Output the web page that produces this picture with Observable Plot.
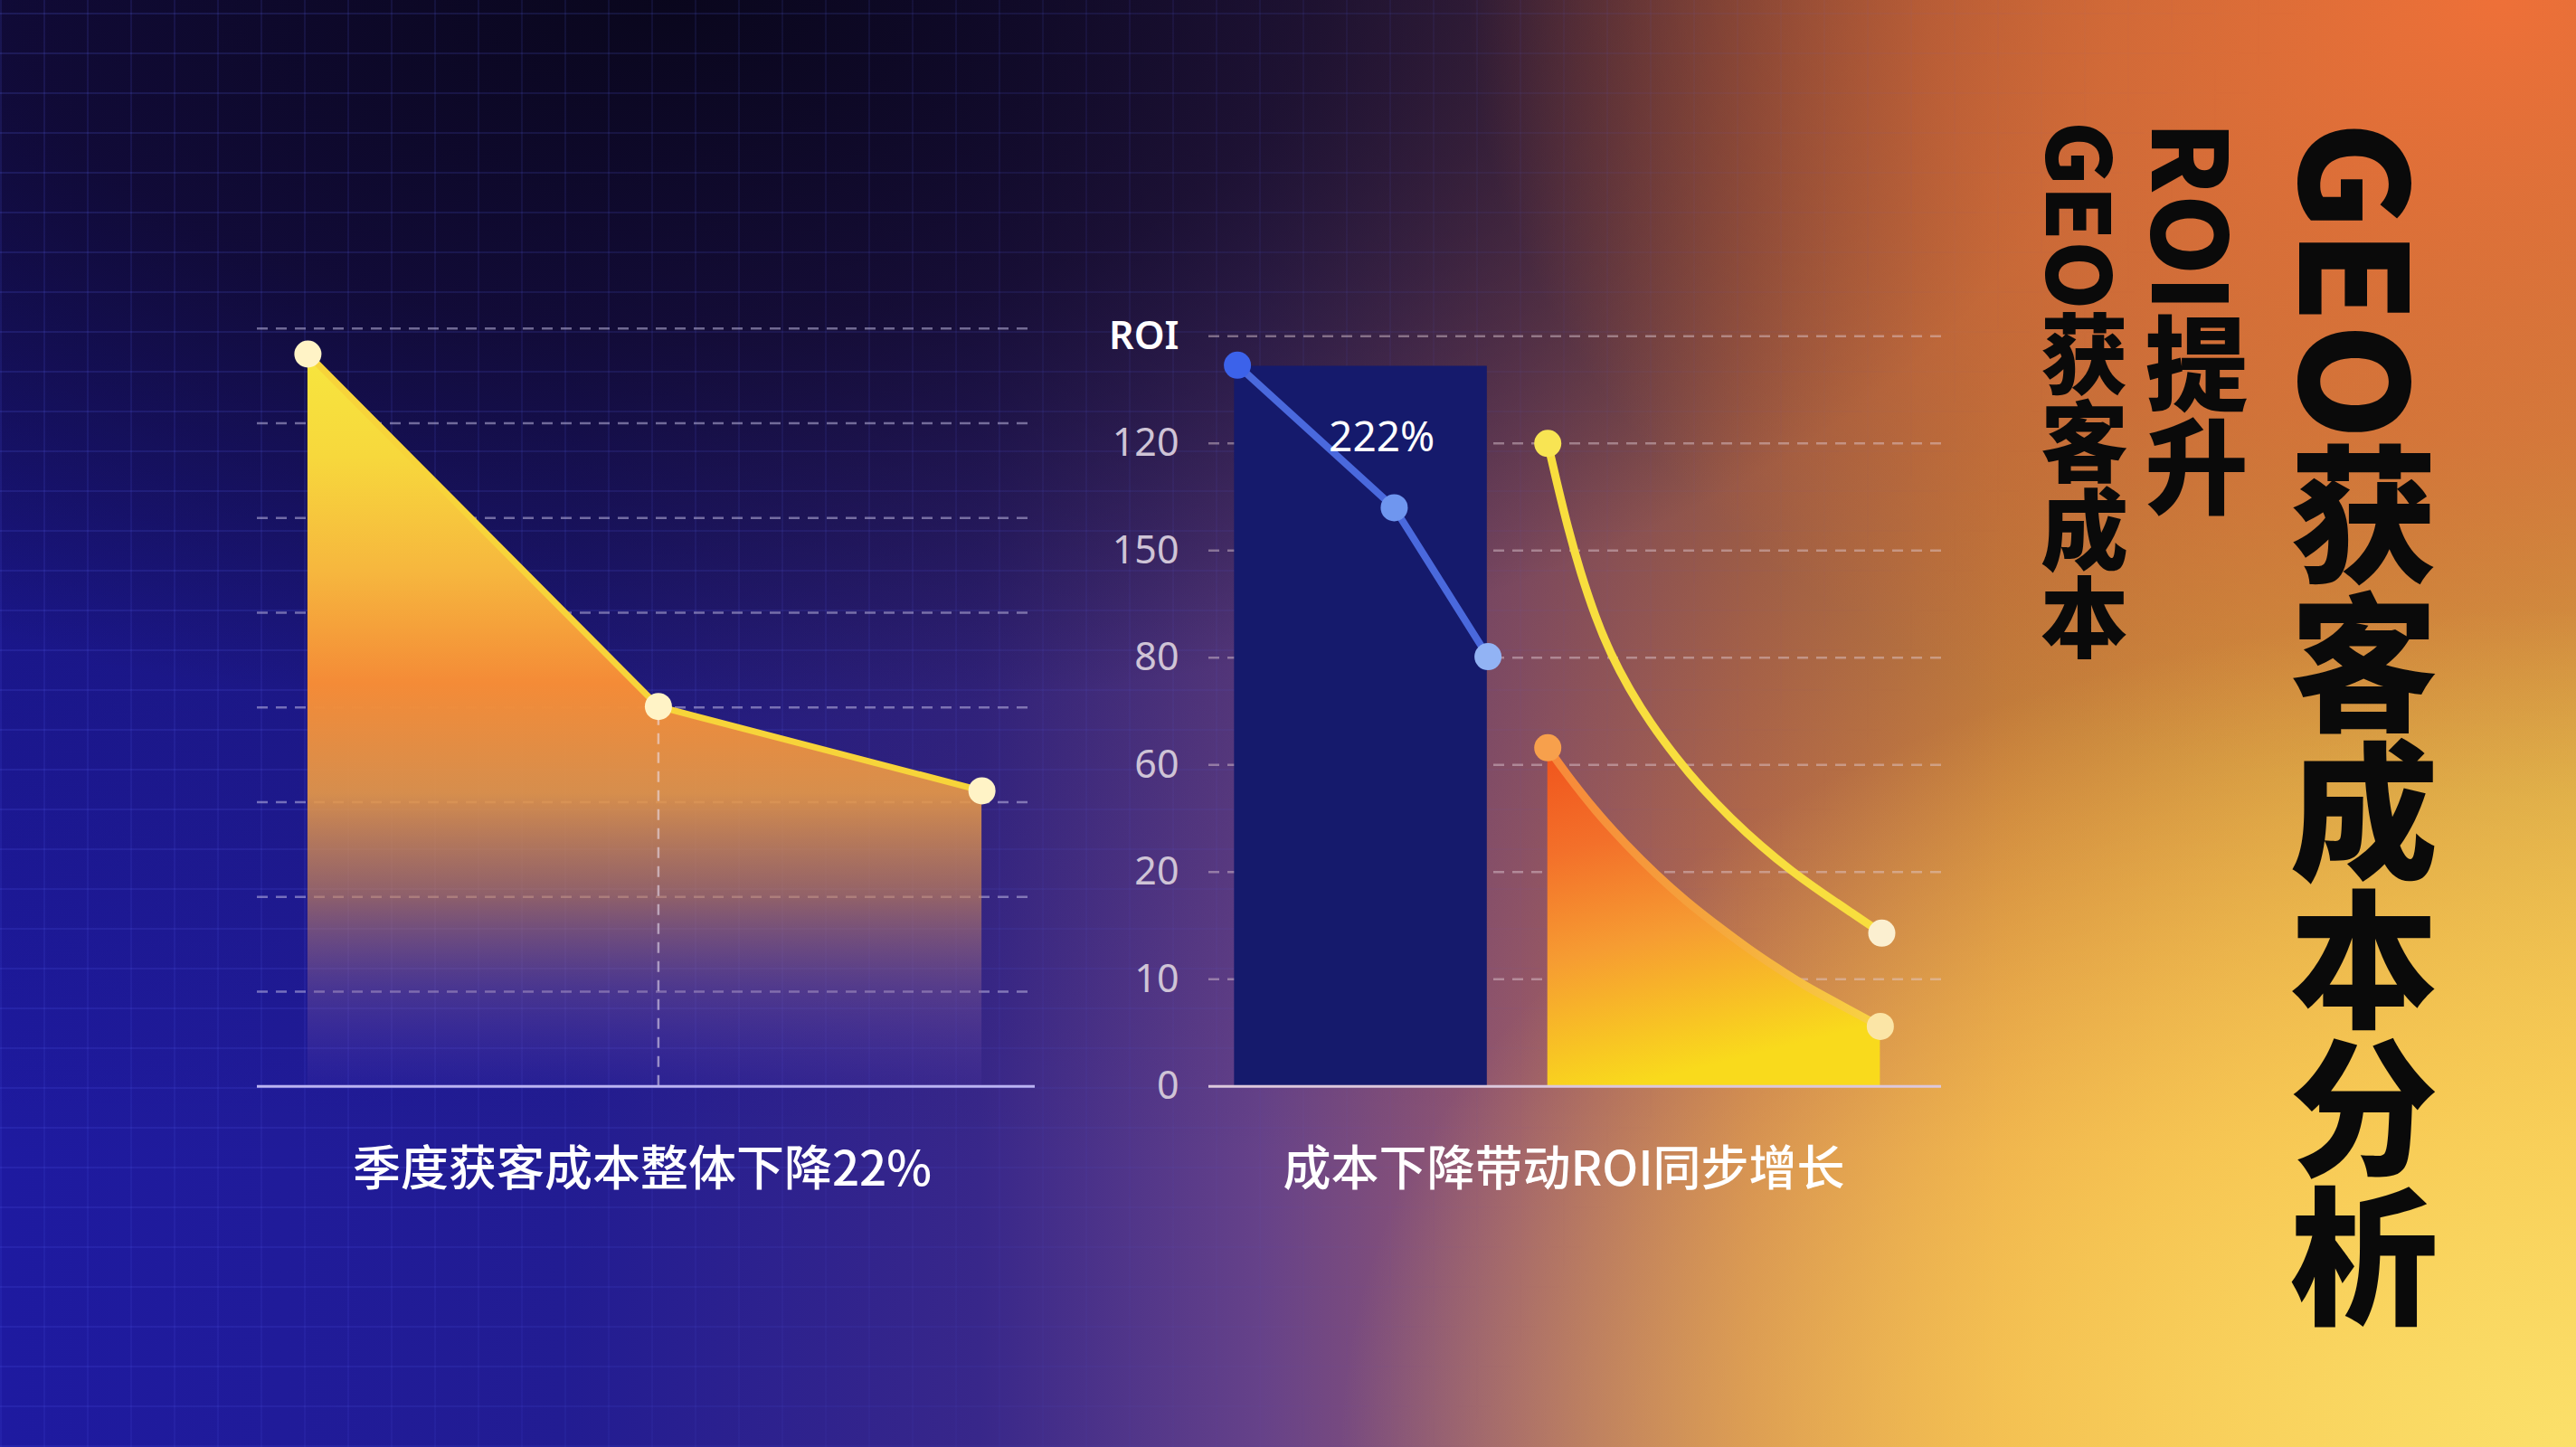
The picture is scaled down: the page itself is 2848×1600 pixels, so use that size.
<!DOCTYPE html>
<html>
<head>
<meta charset="utf-8">
<script src="https://cdn.jsdelivr.net/npm/d3@7"></script>
<script src="https://cdn.jsdelivr.net/npm/@observablehq/plot@0.6"></script>
<style>
html, body { margin: 0; padding: 0; width: 2848px; height: 1600px; overflow: hidden; background: #120f50; }
#stage {
  position: relative; width: 2848px; height: 1600px; overflow: hidden;
  font-family: "Noto Sans CJK SC", "Noto Sans", sans-serif;
  background:
    radial-gradient(ellipse 48% 58% at 100% 100%, rgba(251,224,106,1) 0%, rgba(249,210,90,0.75) 45%, rgba(248,200,80,0) 100%),
    radial-gradient(ellipse 40% 55% at 97% 0%, rgba(238,112,56,1) 0%, rgba(232,108,56,0.6) 55%, rgba(228,100,60,0) 100%),
    radial-gradient(ellipse 56% 50% at 26% 0%, rgba(9,6,26,0.96) 0%, rgba(14,7,30,0.7) 45%, rgba(14,7,30,0) 100%),
    linear-gradient(to bottom, rgba(8,6,40,0.42) 0%, rgba(8,6,40,0.18) 45%, rgba(8,6,40,0) 80%),
    linear-gradient(to right, #1e1aa0 0%, #221c92 22%, #38278a 38%, #664289 49%, #9a5a6c 59%, #c6744e 68%, #e6923e 78%, #f1a841 88%, #f5b946 100%);
}
#grid {
  position: absolute; left: 0; top: 0; width: 2848px; height: 1600px;
  background-image:
    repeating-linear-gradient(0deg, rgba(95,105,255,0.17) 0px, rgba(95,105,255,0.17) 2px, transparent 2px, transparent 44px),
    repeating-linear-gradient(90deg, rgba(95,105,255,0.13) 0px, rgba(95,105,255,0.13) 2px, transparent 2px, transparent 48px);
  -webkit-mask-image: linear-gradient(120deg, #000 0%, rgba(0,0,0,0.65) 35%, rgba(0,0,0,0) 68%);
  mask-image: linear-gradient(120deg, #000 0%, rgba(0,0,0,0.65) 35%, rgba(0,0,0,0) 68%);
}
.layer { position: absolute; left: 0; top: 0; }
.caption {
  position: absolute; top: 1288px; transform: translate(-50%, -50%);
  color: #ffffff; font-size: 53px; font-weight: 500; line-height: 1; white-space: nowrap;
}
.vtitle {
  position: absolute; top: 134px; writing-mode: vertical-rl;
  color: #0a0a0a; font-weight: 900; line-height: 1; white-space: nowrap;
}
</style>
</head>
<body>
<div id="stage">
  <div id="grid"></div>
</div>
<script>
// ---------- DATA ----------
// Left chart: quarterly acquisition cost (grid units), x = quarter position
const quarterPos = [0, 1.04, 2];
const acquisitionCost = [7.73, 4.01, 3.12];

// Right chart: ROI axis tick labels (as printed, bottom to top)
const roiTickLabels = ["0", "10", "20", "60", "80", "150", "120", "ROI"];

// Right chart: navy column
const barX = [3.5, 38.0];
const barValue = [6.72];

// Right chart: blue ROI line
const blueX = [3.9, 25.3, 38.1];
const blueY = [6.73, 5.40, 4.01];

// Right chart: yellow curve
const yellowX = [46.26, 47.41, 49.05, 50.70, 52.75, 54.81, 57.28, 60.16, 63.86, 67.16, 71.27, 75.40, 79.51, 83.62, 87.74, 91.85];
const yellowY = [6.00, 5.66, 5.20, 4.80, 4.38, 4.04, 3.72, 3.40, 3.06, 2.79, 2.50, 2.24, 2.01, 1.81, 1.62, 1.43];

// Right chart: orange curve (filled)
const orangeX = [46.26, 48.64, 52.75, 56.88, 60.99, 65.10, 69.22, 73.33, 77.44, 81.56, 85.68, 91.65];
const orangeY = [3.16, 2.93, 2.57, 2.26, 1.98, 1.73, 1.51, 1.30, 1.11, 0.93, 0.78, 0.56];

// Annotation
const annotLabel = ["222%"];
const annotX = [23.6];
const annotY = [6.05];

// Texts
const captionLeft = "季度获客成本整体下降22%";
const captionRight = "成本下降带动ROI同步增长";
const titleMain = "GEO获客成本分析";
const titleSub1 = "ROI提升";
const titleSub2 = "GEO获客成本";

// ---------- STYLES ----------
const blueDotColors = ["#3c62ea", "#6f96ef", "#92b3f4"];
const yellowEndColors = ["#f8e453", "#fbefd0"];
const orangeEndColors = ["#f7a04c", "#fbe5a6"];
const FONT = "'Noto Sans', 'Noto Sans CJK SC', sans-serif";
const W = 2848, H = 1600;

const stage = document.getElementById("stage");

function gradientDefs(list) {
  const defs = d3.create("svg:defs");
  for (const g of list) {
    const lg = defs.append("linearGradient").attr("id", g.id)
      .attr("x1", g.x1).attr("y1", g.y1).attr("x2", g.x2).attr("y2", g.y2);
    for (const [o, c, a] of g.stops) lg.append("stop").attr("offset", o).attr("stop-color", c).attr("stop-opacity", a);
  }
  return defs.node();
}

// ---------- LEFT CHART ----------
const leftData = quarterPos.map((x, i) => ({x, y: acquisitionCost[i]}));
const leftDefs = gradientDefs([{
  id: "gLeftArea", x1: 0, y1: 0, x2: 0, y2: 1,
  stops: [[0, "#f7e63e", 1], [0.14, "#f7d83c", 1], [0.3, "#f6b63e", 1], [0.45, "#f48b37", 1],
          [0.6, "#e69848", 0.92], [0.74, "#c8845a", 0.66], [0.87, "#8f6496", 0.36], [1, "#6a4bc0", 0.08]]
}]);

const leftPlot = Plot.plot({
  width: W, height: H,
  marginLeft: 284, marginRight: W - 1144, marginTop: 362.7, marginBottom: H - 1200.7,
  x: {domain: [-0.15, 2.158], axis: null},
  y: {domain: [0, 8], axis: null},
  style: {background: "transparent", overflow: "visible", fontFamily: FONT},
  marks: [
    () => leftDefs,
    Plot.ruleY(d3.range(1, 9), {stroke: "#cbc5ec", strokeOpacity: 0.5, strokeWidth: 2.5, strokeDasharray: "12,9"}),
    Plot.areaY(leftData, {x: "x", y: "y", fill: "url(#gLeftArea)"}),
    Plot.ruleX([leftData[1]], {x: "x", y1: 0, y2: "y", stroke: "#ece4f4", strokeOpacity: 0.55, strokeWidth: 2.5, strokeDasharray: "12,9"}),
    Plot.line(leftData, {x: "x", y: "y", stroke: "#f7d43a", strokeWidth: 7}),
    Plot.ruleY([0], {stroke: "#bab3f2", strokeWidth: 3}),
    Plot.dot(leftData, {x: "x", y: "y", r: 15, fill: "#fff3c6"})
  ]
});
leftPlot.classList.add("layer");
stage.appendChild(leftPlot);

// ---------- RIGHT CHART ----------
const blueData = blueX.map((x, i) => ({x, y: blueY[i]}));
const yellowData = yellowX.map((x, i) => ({x, y: yellowY[i]}));
const orangeData = orangeX.map((x, i) => ({x, y: orangeY[i]}));
const yellowEnds = [yellowData[0], yellowData[yellowData.length - 1]];
const orangeEnds = [orangeData[0], orangeData[orangeData.length - 1]];
const barData = [{x1: barX[0], x2: barX[1], y: barValue[0]}];
const annotData = annotLabel.map((t, i) => ({t, x: annotX[i], y: annotY[i]}));

const rightDefs = gradientDefs([
  {id: "gOrangeArea", x1: 0, y1: 0, x2: 0.25, y2: 1,
   stops: [[0, "#f0531c", 1], [0.3, "#f3702a", 1], [0.6, "#f69c32", 1], [1, "#f9da1c", 1]]},
  {id: "gOrangeLine", x1: 0, y1: 0, x2: 1, y2: 0,
   stops: [[0, "#f7883a", 1], [0.45, "#f5a23c", 1], [1, "#f8d444", 1]]}
]);

const rightPlot = Plot.plot({
  width: W, height: H,
  marginLeft: 1336, marginRight: W - 2146, marginTop: 371.3, marginBottom: H - 1200.8,
  x: {domain: [0, 100], axis: null},
  y: {domain: [0, 7], axis: null},
  color: {type: "identity"},
  style: {background: "transparent", overflow: "visible", fontFamily: FONT},
  marks: [
    () => rightDefs,
    Plot.ruleY(d3.range(1, 8), {stroke: "#e2cfd8", strokeOpacity: 0.45, strokeWidth: 2.5, strokeDasharray: "12,9"}),
    Plot.axisY(d3.range(8), {tickFormat: i => roiTickLabels[i], tickSize: 0, tickPadding: 33, fontSize: 43, fill: "#cfc4d6", label: null}),
    Plot.rect(barData, {x1: "x1", x2: "x2", y1: 0, y2: "y", fill: "#151a6c"}),
    Plot.areaY(orangeData, {x: "x", y: "y", fill: "url(#gOrangeArea)", curve: "basis"}),
    Plot.line(orangeData, {x: "x", y: "y", stroke: "url(#gOrangeLine)", strokeWidth: 9, curve: "basis"}),
    Plot.line(yellowData, {x: "x", y: "y", stroke: "#f8de3e", strokeWidth: 9, curve: "basis"}),
    Plot.ruleY([0], {stroke: "#dcc8dc", strokeWidth: 3}),
    Plot.line(blueData, {x: "x", y: "y", stroke: "#4a69dd", strokeWidth: 8}),
    Plot.dot(blueData, {x: "x", y: "y", r: 15, fill: (d, i) => blueDotColors[i]}),
    Plot.dot(yellowEnds, {x: "x", y: "y", r: 15, fill: (d, i) => yellowEndColors[i]}),
    Plot.dot(orangeEnds, {x: "x", y: "y", r: 15, fill: (d, i) => orangeEndColors[i]}),
    Plot.text(annotData, {x: "x", y: "y", text: "t", fill: "#ffffff", fontSize: 46, fontFamily: FONT})
  ]
});
rightPlot.classList.add("layer");
d3.select(rightPlot).selectAll("text")
  .filter(function () { return this.textContent === "ROI"; })
  .attr("fill", "#ffffff").attr("font-weight", 600);
stage.appendChild(rightPlot);

// ---------- CAPTIONS ----------
function addDiv(cls, text, css) {
  const d = document.createElement("div");
  d.className = cls;
  d.textContent = text;
  Object.assign(d.style, css);
  stage.appendChild(d);
  return d;
}
addDiv("caption", captionLeft, {left: "710px"});
addDiv("caption", captionRight, {left: "1729px"});

// ---------- VERTICAL TITLES ----------
addDiv("vtitle", titleMain, {left: "2531px", fontSize: "164px"});
addDiv("vtitle", titleSub1, {left: "2371px", fontSize: "114px"});
addDiv("vtitle", titleSub2, {left: "2256px", fontSize: "97px"});
</script>
</body>
</html>
